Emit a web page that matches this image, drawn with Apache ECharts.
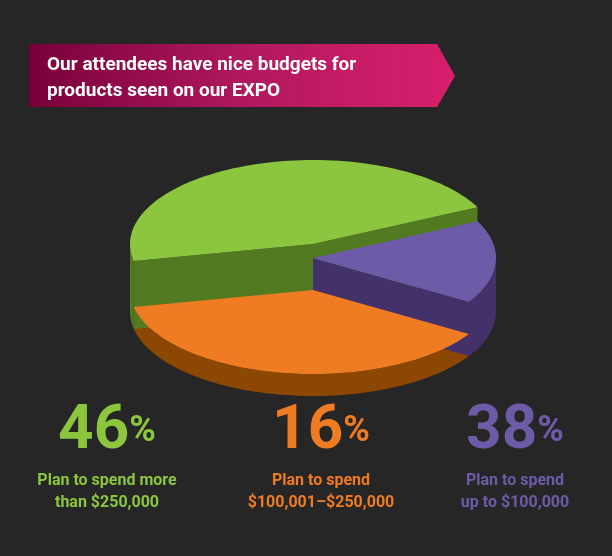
<!DOCTYPE html>
<html><head><meta charset="utf-8">
<script src="https://cdn.jsdelivr.net/npm/echarts@6/dist/echarts.min.js"></script>
<style>html,body{margin:0;background:#262626}#c{width:612px;height:556px}</style>
</head><body><div id="c"></div>
<script>
const categories = ['Plan to spend more than $250,000', 'Plan to spend $100,001–$250,000', 'Plan to spend up to $100,000'];
const shares = [46, 38, 16];
const labelPercents = ['46', '16', '38'];
const labelLines = [['Plan to spend more', 'than $250,000'], ['Plan to spend', '$100,001–$250,000'], ['Plan to spend', 'up to $100,000']];
const topColors = ['#8cc63f', '#ef7b22', '#6e5ba8'];
const sideColors = ['#517a21', '#8c4703', '#43316a'];
const heights = [68, 22, 54];

const cx = 313, baseY = 312, rx = 183, ry = 84, startDeg = 26;
const total = shares.reduce((a, b) => a + b, 0);
const starts = [];
let acc = startDeg;
shares.forEach(v => { starts.push(acc); acc += v / total * 360; });

function pt(t, cy) { const r = t * Math.PI / 180; return [cx + rx * Math.cos(r), cy - ry * Math.sin(r)]; }
function arc(a0, a1, cy) { const p = []; const n = Math.max(2, Math.ceil(Math.abs(a1 - a0) / 2)); for (let i = 0; i <= n; i++) p.push(pt(a0 + (a1 - a0) * i / n, cy)); return p; }

function renderItem(params, api) {
  const i = params.dataIndex;
  const v = api.value(1);
  const a0 = starts[i], a1 = a0 + v / total * 360;
  const h = heights[i];
  const topY = baseY - h;
  const children = [];
  // outer side (front half only)
  const f0 = Math.max(a0, 180), f1 = Math.min(a1, 360);
  if (f1 > f0) {
    const upper = arc(f0, f1, topY), lower = arc(f1, f0, baseY);
    children.push({ type: 'polygon', z2: 1, shape: { points: upper.concat(lower) }, style: { fill: sideColors[i] } });
  }
  // radial faces where taller than neighbour
  const n = heights.length;
  const prev = (i + n - 1) % n, next = (i + 1) % n;
  [[a0, prev], [a1, next]].forEach(([ang, nb]) => {
    if (h > heights[nb]) {
      const e1 = pt(ang, topY), e2 = pt(ang, baseY);
      children.push({ type: 'polygon', z2: 2, shape: { points: [[cx, topY], e1, e2, [cx, baseY]] }, style: { fill: sideColors[i] } });
    }
  });
  // top
  children.push({ type: 'polygon', z2: 10 + i, shape: { points: [[cx, topY]].concat(arc(a0, a1, topY)) }, style: { fill: topColors[i] } });
  return { type: 'group', children };
}

const chart = echarts.init(document.getElementById('c'));
const font = 'Roboto, "DejaVu Sans", sans-serif';
const labelX = [107, 321, 515];
const graphics = [
  { type: 'polygon', shape: { points: [[29, 44], [437, 44], [455, 76], [437, 107], [29, 107]] },
    style: { fill: new echarts.graphic.LinearGradient(0, 0, 1, 0, [{ offset: 0, color: '#78003a' }, { offset: 0.5, color: '#b0195e' }, { offset: 1, color: '#d81f6c' }]) } },
  { type: 'text', left: 47, top: 52, style: { text: 'Our attendees have nice budgets for\nproducts seen on our EXPO', fill: '#fff', font: 'bold 19px ' + font, lineHeight: 26 } }
];
labelPercents.forEach((p, i) => {
  graphics.push({ type: 'text', x: labelX[i], y: 463, style: { text: '{a|' + p + '}{b|%}', fill: topColors[i], align: 'center', verticalAlign: 'bottom',
    rich: { a: { font: 'bold 62px ' + font, fill: topColors[i] }, b: { font: 'bold 36px ' + font, fill: topColors[i] } } } });
  graphics.push({ type: 'text', x: labelX[i], y: 470, style: { text: labelLines[i].join('\n'), fill: topColors[i], align: 'center', font: 'bold 16px ' + font, lineHeight: 22 } });
});

chart.setOption({
  backgroundColor: '#262626',
  animation: false,
  graphic: graphics,
  series: [{
    type: 'custom',
    coordinateSystem: 'none',
    renderItem,
    data: categories.map((c, i) => [c, shares[i]])
  }]
});
</script></body></html>
